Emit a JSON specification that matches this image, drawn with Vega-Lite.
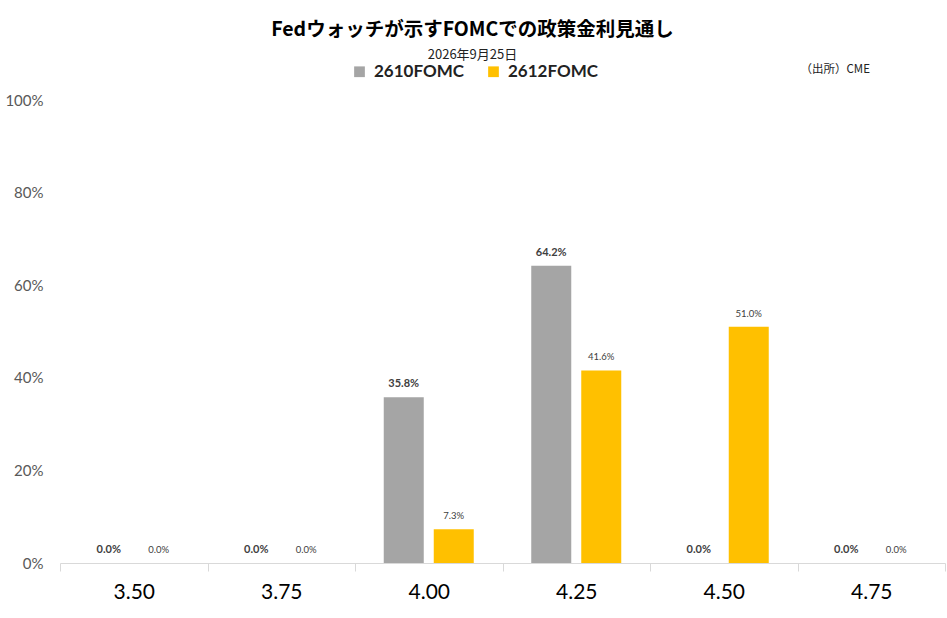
{
  "$schema": "https://vega.github.io/schema/vega-lite/v6.json",
  "width": 885,
  "height": 463,
  "autosize": "none",
  "padding": {"left": 60, "top": 100, "right": 2, "bottom": 55},
  "background": "white",
  "title": {
    "text": "Fedウォッチが示すFOMCでの政策金利見通し",
    "subtitle": "2026年9月25日",
    "anchor": "middle",
    "frame": "group",
    "dx": -30,
    "offset": 0,
    "font": "Noto Sans CJK JP",
    "fontSize": 19.5,
    "fontWeight": "bold",
    "color": "#000000",
    "subtitleFont": "Noto Sans CJK JP",
    "subtitleFontSize": 13,
    "subtitleColor": "#222222",
    "subtitlePadding": 9
  },
  "data": {
    "values": [
      {"rate": "3.50", "series": "2610FOMC", "value": 0},
      {"rate": "3.50", "series": "2612FOMC", "value": 0},
      {"rate": "3.75", "series": "2610FOMC", "value": 0},
      {"rate": "3.75", "series": "2612FOMC", "value": 0},
      {"rate": "4.00", "series": "2610FOMC", "value": 0.358},
      {"rate": "4.00", "series": "2612FOMC", "value": 0.073},
      {"rate": "4.25", "series": "2610FOMC", "value": 0.642},
      {"rate": "4.25", "series": "2612FOMC", "value": 0.416},
      {"rate": "4.50", "series": "2610FOMC", "value": 0},
      {"rate": "4.50", "series": "2612FOMC", "value": 0.51},
      {"rate": "4.75", "series": "2610FOMC", "value": 0},
      {"rate": "4.75", "series": "2612FOMC", "value": 0}
    ]
  },
  "encoding": {
    "x": {
      "field": "rate",
      "type": "nominal",
      "sort": null,
      "scale": {"paddingInner": 0, "paddingOuter": 0},
      "axis": {
        "title": null,
        "labelAngle": 0,
        "labelFont": "Lato",
        "labelFontSize": 21,
        "labelColor": "#000000",
        "labelPadding": 10,
        "tickBand": "extent",
        "tickSize": 8,
        "tickColor": "#d9d9d9",
        "domainColor": "#d9d9d9"
      }
    },
    "xOffset": {
      "field": "series",
      "type": "nominal",
      "scale": {"paddingInner": 0.2, "paddingOuter": 0.575}
    },
    "y": {
      "field": "value",
      "type": "quantitative",
      "scale": {"domain": [0, 1]},
      "axis": {
        "values": [0, 0.2, 0.4, 0.6, 0.8, 1],
        "format": ".0%",
        "grid": false,
        "domain": false,
        "ticks": false,
        "labelFont": "Lato",
        "labelFontSize": 15,
        "labelColor": "#595959",
        "labelPadding": 17,
        "title": "（出所）CME",
        "titleAngle": 0,
        "titleX": 740,
        "titleY": -31,
        "titleAlign": "left",
        "titleBaseline": "middle",
        "titleFont": "Noto Sans CJK JP",
        "titleFontSize": 11.5,
        "titleFontWeight": "normal",
        "titleColor": "#222222"
      }
    }
  },
  "layer": [
    {
      "mark": {"type": "bar"},
      "encoding": {
        "color": {
          "field": "series",
          "type": "nominal",
          "scale": {"domain": ["2610FOMC", "2612FOMC"], "range": ["#A5A5A5", "#FFC000"]},
          "legend": {
            "orient": "none",
            "legendX": 291,
            "legendY": -37,
            "direction": "horizontal",
            "title": null,
            "symbolType": "square",
            "symbolSize": 115,
            "symbolStrokeWidth": 0,
            "labelFont": "Lato",
            "labelFontSize": 17,
            "labelFontWeight": "bold",
            "labelColor": "#222222",
            "labelOffset": 6,
            "columnPadding": 21
          }
        }
      }
    },
    {
      "transform": [{"filter": "datum.series === '2610FOMC'"}],
      "mark": {"type": "text", "baseline": "bottom", "dy": -8, "font": "Lato", "fontSize": 11, "fontWeight": "bold", "color": "#404040"},
      "encoding": {"text": {"field": "value", "type": "quantitative", "format": ".1%"}}
    },
    {
      "transform": [{"filter": "datum.series === '2612FOMC'"}],
      "mark": {"type": "text", "baseline": "bottom", "dy": -8, "font": "Lato", "fontSize": 9.5, "color": "#404040"},
      "encoding": {"text": {"field": "value", "type": "quantitative", "format": ".1%"}}
    }
  ],
  "config": {
    "view": {"stroke": null}
  }
}
